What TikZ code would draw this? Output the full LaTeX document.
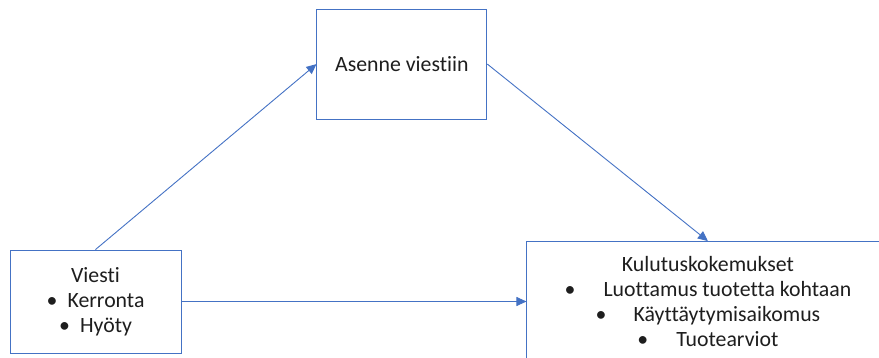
\documentclass[tikz,border=0pt]{standalone}
\usepackage{fontspec}
\setmainfont[Ligatures=NoCommon]{Carlito}
\usetikzlibrary{arrows.meta,positioning}
\definecolor{lineblue}{RGB}{68,114,196}
\definecolor{textgray}{RGB}{30,30,30}
\newcommand{\bitem}[2]{\makebox[#1][l]{\textbullet}#2}

\begin{document}
\begin{tikzpicture}[
      x=1pt, y=-1pt,
      every node/.style={font=\fontsize{21.8}{25}\selectfont, text=textgray},
      box/.style={rectangle, draw=lineblue, line width=0.9pt, fill=white,
                  align=center, inner sep=0pt},
      arr/.style={-{Triangle[length=10pt,width=9pt]}, lineblue, line width=0.9pt},
    ]
    \useasboundingbox (0,0) rectangle (879,358);
    \clip (0,0) rectangle (879,358);

    % Message
    \node[box, minimum width=171pt, minimum height=103pt] (viesti) at (95.5,301.5)
      {Viesti\\ \bitem{21pt}{Kerronta}\\ \bitem{21pt}{Hyöty}};

    % Attitude
    \node[box, minimum width=170pt, minimum height=110pt,
          above right=130pt and 135pt of viesti.north east, anchor=south west] (asenne)
      {Asenne viestiin};

    % Consumer experiences
    \node[box, minimum width=362pt, minimum height=120pt,
          right=345pt of viesti.east, anchor=west] (kulutus)
      {Kulutuskokemukset\\ \bitem{39pt}{Luottamus tuotetta kohtaan}\\
       \bitem{38pt}{Käyttäytymisaikomus}\\ \bitem{39pt}{Tuotearviot}};

    % Arrows
    \draw[arr] (viesti.north) -- (asenne.west);
    \draw[arr] (asenne.east) -- (kulutus.north);
    \draw[arr] (viesti.east) -- (kulutus.west);
  \end{tikzpicture}
\end{document}
